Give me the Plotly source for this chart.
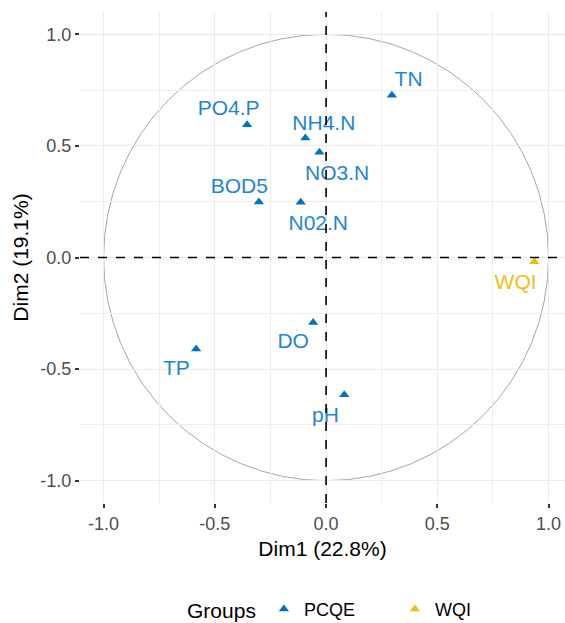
import plotly.graph_objects as go

# ---- data ----
variables = ["TN", "PO4.P", "NH4.N", "NO3.N", "BOD5", "N02.N", "WQI", "DO", "TP", "pH"]
groups = ["PCQE", "PCQE", "PCQE", "PCQE", "PCQE", "PCQE", "WQI", "PCQE", "PCQE", "PCQE"]
dim1 = [0.296, -0.355, -0.093, -0.030, -0.302, -0.114, 0.936, -0.058, -0.584, 0.082]
dim2 = [0.727, 0.595, 0.535, 0.472, 0.249, 0.247, -0.019, -0.291, -0.410, -0.615]
# repelled label positions (data units)
label_x = [0.371, -0.438, -0.010, 0.050, -0.390, -0.035, 0.852, -0.148, -0.673, -0.003]
label_y = [0.793, 0.662, 0.596, 0.373, 0.313, 0.145, -0.116, -0.384, -0.503, -0.712]
tick_vals = [-1.0, -0.5, 0.0, 0.5, 1.0]
tick_text = ["-1.0", "-0.5", "0.0", "0.5", "1.0"]

point_colors = {"PCQE": "#0073C2", "WQI": "#EFC000"}
text_colors = {"PCQE": "#1F84D6", "WQI": "#F0C010"}
legend_names = {"PCQE": "PCQE       ", "WQI": "WQI"}
FONT = "Liberation Sans, Arial, sans-serif"

fig = go.Figure()

for g in ["PCQE", "WQI"]:
    idx = [i for i, gg in enumerate(groups) if gg == g]
    fig.add_trace(go.Scatter(
        x=[dim1[i] for i in idx], y=[dim2[i] for i in idx],
        mode="markers", name=legend_names[g],
        marker=dict(symbol="triangle-up", size=9, color=point_colors[g]),
        showlegend=True,
    ))
    fig.add_trace(go.Scatter(
        x=[label_x[i] for i in idx], y=[label_y[i] for i in idx],
        mode="text", text=[variables[i] for i in idx],
        textposition="middle center",
        textfont=dict(family=FONT, size=21, color=text_colors[g]),
        showlegend=False, hoverinfo="skip",
    ))

shapes = [
    dict(type="circle", xref="x", yref="y", x0=-1, y0=-1, x1=1, y1=1,
         line=dict(color="#A6A6A6", width=1), layer="below"),
    dict(type="line", xref="x", yref="paper", x0=0, x1=0, y0=0, y1=1,
         line=dict(color="black", width=1.6, dash="dash")),
    dict(type="line", xref="paper", yref="y", x0=0, x1=1, y0=0, y1=0,
         line=dict(color="black", width=1.6, dash="dash")),
]

axis_common = dict(
    tickvals=tick_vals, ticktext=tick_text,
    showgrid=True, gridcolor="#EBEBEB", gridwidth=1.3,
    minor=dict(showgrid=True, gridcolor="#EDEDED", gridwidth=1.2, dtick=0.25, tick0=0.25),
    zeroline=False, showline=False,
    ticks="outside", ticklen=4, tickcolor="#333333", tickwidth=1.5,
    tickfont=dict(family=FONT, size=18, color="#4D4D4D"),
)

fig.update_layout(
    width=565, height=623,
    margin=dict(l=80, r=0, t=12, b=120, autoexpand=False),
    paper_bgcolor="white", plot_bgcolor="white",
    shapes=shapes,
    xaxis=dict(range=[-1.106, 1.074],
               title=dict(text="Dim1 (22.8%)", font=dict(family=FONT, size=21, color="black"), standoff=8),
               **axis_common),
    yaxis=dict(range=[-1.1, 1.1],
               title=dict(text="Dim2 (19.1%)", font=dict(family=FONT, size=21, color="black"), standoff=6),
               **axis_common),
    legend=dict(orientation="h", x=0.585, xanchor="center", xref="container",
                y=0.021, yanchor="middle", yref="container",
                itemwidth=30,
                title=dict(text="Groups", font=dict(family=FONT, size=21, color="black")),
                font=dict(family=FONT, size=18, color="black")),
    showlegend=True,
)

fig.write_html("out.html")
